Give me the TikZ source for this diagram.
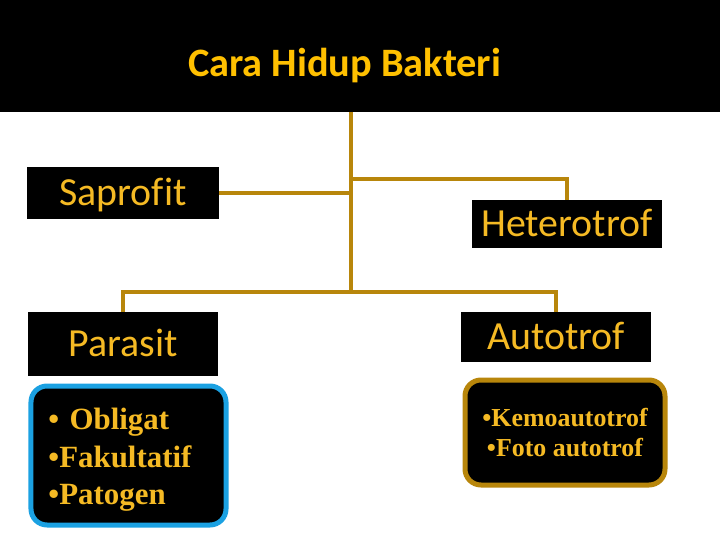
\documentclass[tikz,border=0pt]{standalone}
\usepackage{fontspec}
\setmainfont{Carlito}[Ligatures=NoCommon]
\newfontfamily\timesfont{Liberation Serif}
\definecolor{titleyellow}{HTML}{FFC000}
\definecolor{textyellow}{HTML}{F5BA24}
\definecolor{branchgold}{HTML}{B8860B}
\definecolor{boxblue}{HTML}{1BA1E2}

\begin{document}
\begin{tikzpicture}[x=1bp, y=-1bp,
    kind/.style={fill=black, text=textyellow, inner sep=0pt,
      text height=31bp, text depth=6bp, font=\fontsize{40}{40}\selectfont},
    branch/.style={draw=branchgold, line width=4bp},
    listbox/.style={fill=black, line width=5bp, rounded corners=16bp,
      text=textyellow, inner sep=0pt}]
    \useasboundingbox (0, 0) rectangle (720, 540);
    \node[fill=black, minimum width=720bp, minimum height=112bp, inner sep=0pt] (band) at (360, 56) {};
    \node[anchor=base, text=titleyellow, font=\fontsize{40.5}{40.5}\selectfont\bfseries] (title) at (344.5, 76.7) {Cara Hidup Bakteri};
    \node[kind, minimum width=192bp, minimum height=52bp] (saprofit) at (123, 193) {Saprofit};
    \node[kind, minimum width=190bp, minimum height=48bp] (hetero) at (567, 224) {Heterotrof};
    \node[kind, minimum width=190bp, minimum height=64bp] (parasit) at (123, 344) {Parasit};
    \node[kind, minimum width=190bp, minimum height=50bp] (auto) at (556, 337) {Autotrof};
    \coordinate (fork) at (351, 292);
    \draw [branch] (band.south -| fork) -- (fork);
    \draw [branch] (saprofit.east) -- (saprofit.east -| fork);
    \draw [branch] (351, 179) -| (hetero.north);
    \draw [branch] (parasit.north) |- (fork) -| (auto.north);
    \node[listbox, draw=boxblue, minimum width=195bp, minimum height=139bp,
      text width=160bp, align=left, font=\timesfont\bfseries\fontsize{31}{38}\selectfont] (paralist) at (128.5, 455.5)
      {\rule{0pt}{30bp}\textbullet\ Obligat\\\textbullet Fakultatif\\\textbullet Patogen};
    \node[listbox, draw=branchgold, minimum width=200bp, minimum height=105bp,
      align=center, font=\timesfont\bfseries\fontsize{26}{31}\selectfont] (autolist) at (565, 432.5)
      {\textbullet Kemoautotrof\\\textbullet Foto autotrof};
  \end{tikzpicture}
\end{document}
